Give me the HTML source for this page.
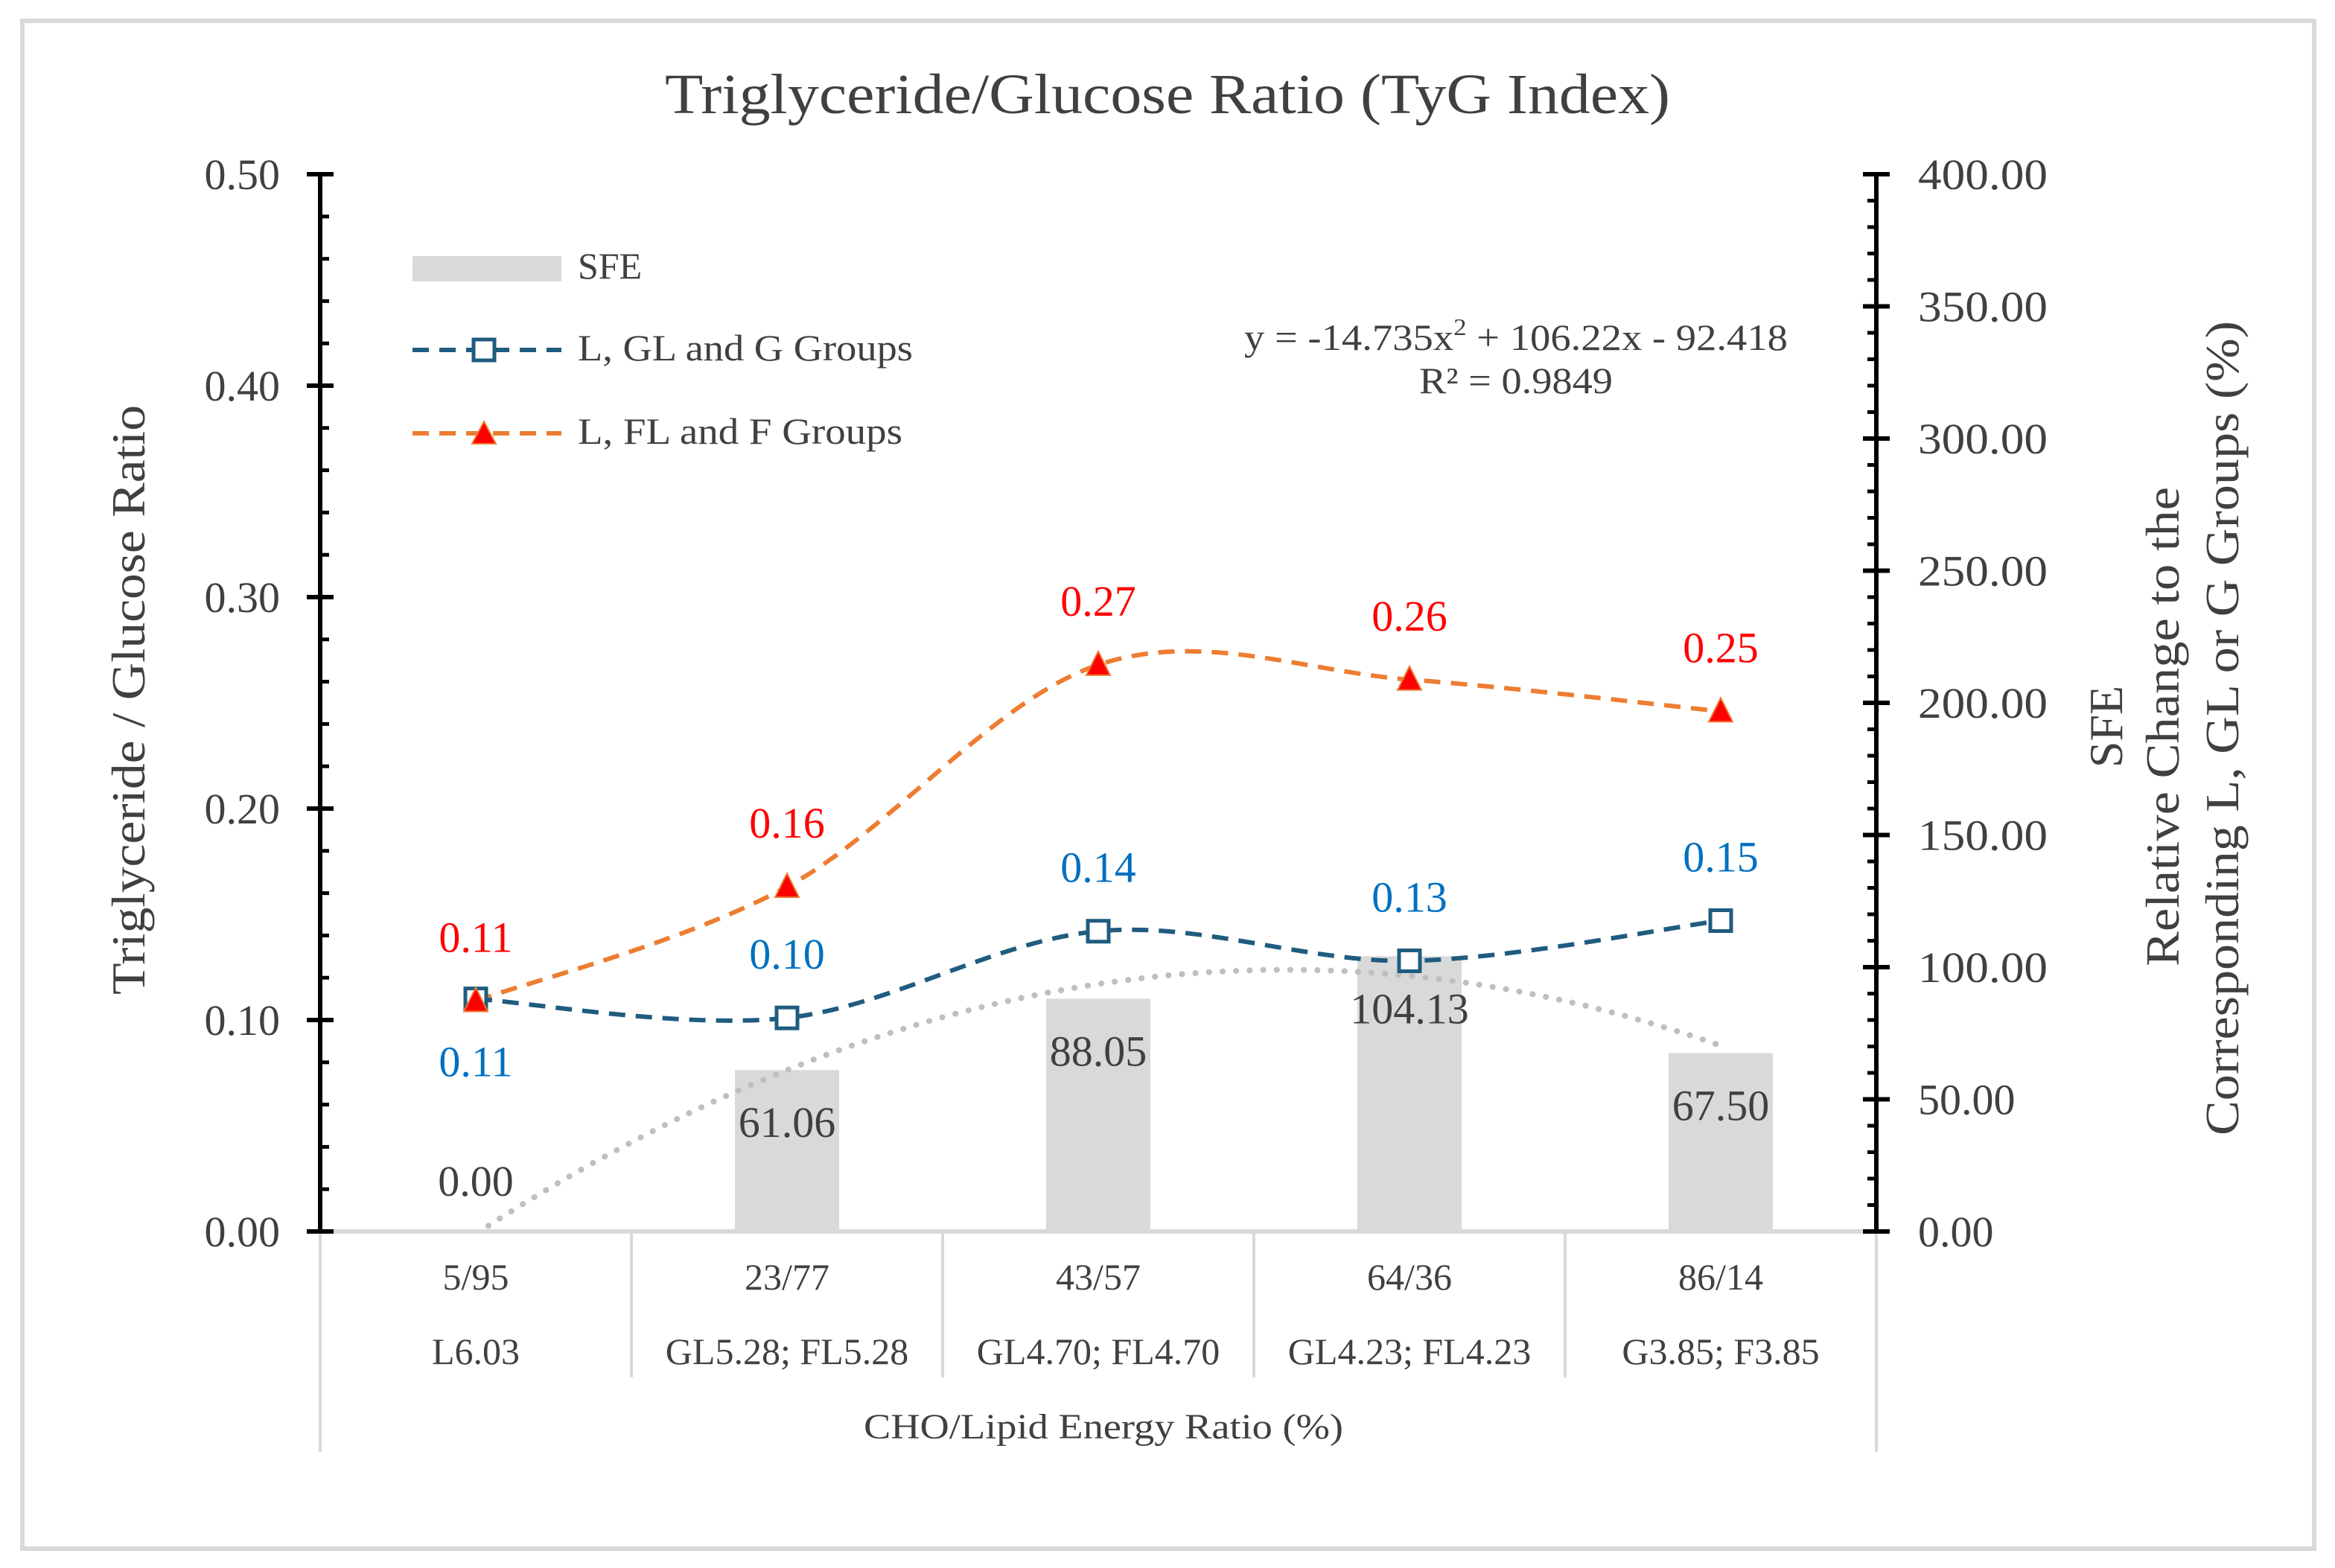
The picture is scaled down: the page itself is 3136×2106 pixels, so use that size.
<!DOCTYPE html>
<html><head><meta charset="utf-8">
<style>
html,body{margin:0;padding:0;background:#fff;}
svg{display:block;}
text{font-family:"Liberation Serif",serif;}
</style></head>
<body>
<svg id="chart" width="3136" height="2106" viewBox="0 0 1568 1053" xmlns="http://www.w3.org/2000/svg">
<rect x="15" y="14" width="1539" height="1026" fill="#fff" stroke="#d9d9d9" stroke-width="3"/>
<text x="784" y="76" font-size="38" fill="#404040" text-anchor="middle" textLength="675" lengthAdjust="spacingAndGlyphs">Triglyceride/Glucose  Ratio (TyG Index)</text>
<g id="grid"></g>
<g id="bars"></g>
<g id="trend"></g>
<g id="lines"></g>
<g id="axes"></g>
<g id="labels"></g>
<text transform="translate(97,470) rotate(-90)" font-size="32" fill="#404040" text-anchor="middle" textLength="396" lengthAdjust="spacingAndGlyphs">Triglyceride / Glucose Ratio</text>
<text transform="translate(1425,488) rotate(-90)" font-size="32" fill="#404040" text-anchor="middle">SFE</text>
<text transform="translate(1463,488) rotate(-90)" font-size="32" fill="#404040" text-anchor="middle" textLength="322" lengthAdjust="spacingAndGlyphs">Relative Change to the</text>
<text transform="translate(1503,489) rotate(-90)" font-size="32" fill="#404040" text-anchor="middle" textLength="547" lengthAdjust="spacingAndGlyphs">Corresponding L, GL or G Groups (%)</text>
<text x="741" y="966" font-size="24" fill="#404040" text-anchor="middle" textLength="322" lengthAdjust="spacingAndGlyphs">CHO/Lipid Energy Ratio (%)</text>
<g>
<rect x="277" y="172" width="100" height="17" fill="#d9d9d9"/>
<text x="388" y="187" font-size="25" fill="#404040">SFE</text>
<line x1="277" y1="235" x2="377" y2="235" stroke="#1f5c7f" stroke-width="3" stroke-dasharray="11,7"/>
<rect x="318" y="228" width="14" height="14" fill="#fff" stroke="#1f5c7f" stroke-width="2.5"/>
<text x="388" y="242" font-size="25" fill="#404040" textLength="225" lengthAdjust="spacingAndGlyphs">L, GL and G Groups</text>
<line x1="277" y1="291" x2="377" y2="291" stroke="#ed7d31" stroke-width="3" stroke-dasharray="11,7"/>
<polygon points="325,283 333,298 317,298" fill="#ff0000" stroke="#ed7d31" stroke-width="1"/>
<text x="388" y="298" font-size="25" fill="#404040" textLength="218" lengthAdjust="spacingAndGlyphs">L, FL and F Groups</text>
</g>
<text x="1018" y="235" font-size="25" fill="#404040" text-anchor="middle" textLength="365" lengthAdjust="spacingAndGlyphs">y = -14.735x<tspan font-size="16" dy="-10">2</tspan><tspan dy="10"> + 106.22x - 92.418</tspan></text>
<text x="1018" y="264" font-size="25" fill="#404040" text-anchor="middle" textLength="130" lengthAdjust="spacingAndGlyphs">R² = 0.9849</text>
</svg>
<script>
const categories = ["5/95","23/77","43/57","64/36","86/14"];
const groupLabels = ["L6.03","GL5.28; FL5.28","GL4.70; FL4.70","GL4.23; FL4.23","G3.85; F3.85"];
const sfeValues = [0, 61.06, 88.05, 104.13, 67.50];
const sfeLabels = ["0.00","61.06","88.05","104.13","67.50"];
const blueValues = [0.110, 0.101, 0.142, 0.128, 0.147];
const blueLabels = ["0.11","0.10","0.14","0.13","0.15"];
const orangeValues = [0.109, 0.163, 0.268, 0.261, 0.246];
const orangeLabels = ["0.11","0.16","0.27","0.26","0.25"];
const trendCoef = [-14.735, 106.22, -92.418];
const leftTicks = ["0.00","0.10","0.20","0.30","0.40","0.50"];
const rightTicks = ["0.00","50.00","100.00","150.00","200.00","250.00","300.00","350.00","400.00"];

const NS="http://www.w3.org/2000/svg";
const X0=215, X1=1260, Y0=827, Y1=117;
const band=(X1-X0)/categories.length;
const xC=i=>X0+band*(i+0.5);
const xT=t=>X0+band*(t-0.5);
const yL=v=>Y0-(v/0.5)*(Y0-Y1);
const yR=v=>Y0-(v/400)*(Y0-Y1);
function mk(tag,attrs,parent,txt){const e=document.createElementNS(NS,tag);for(const k in attrs)e.setAttribute(k,attrs[k]);if(txt!==undefined)e.textContent=txt;document.getElementById(parent).appendChild(e);return e;}
function smooth(pts){let d=`M${pts[0][0]},${pts[0][1]}`;for(let i=0;i<pts.length-1;i++){const p0=pts[i-1]||pts[i],p1=pts[i],p2=pts[i+1],p3=pts[i+2]||p2;const c1=[p1[0]+(p2[0]-p0[0])/6,p1[1]+(p2[1]-p0[1])/6],c2=[p2[0]-(p3[0]-p1[0])/6,p2[1]-(p3[1]-p1[1])/6];d+=` C${c1[0]},${c1[1]} ${c2[0]},${c2[1]} ${p2[0]},${p2[1]}`;}return d;}

let e;
e=mk('line',{x1:X0,y1:Y0,x2:X1,y2:Y0,stroke:'#d9d9d9','stroke-width':3},'grid');


for(let i=0;i<=categories.length;i++){
  const x=X0+band*i, outer=(i===0||i===categories.length);
  e=mk('line',{x1:x,y1:Y0,x2:x,y2:outer?975:925,stroke:'#d9d9d9','stroke-width':2},'grid');
  
  
}
categories.forEach((c,i)=>{
  e=mk('text',{x:xC(i),y:866,'font-size':25,fill:'#404040','text-anchor':'middle'},'labels',c);
  
  
  e=mk('text',{x:xC(i),y:916,'font-size':25,fill:'#404040','text-anchor':'middle'},'labels',groupLabels[i]);
  
  
});

sfeValues.forEach((v,i)=>{
  e=mk('rect',{x:xC(i)-35,y:yR(v),width:70,height:Y0-yR(v),fill:'#d9d9d9'},'bars');
  
  
  const ly = v===0 ? Y0-24 : yR(v)+45;
  e=mk('text',{x:xC(i),y:ly,'font-size':29,fill:'#404040','text-anchor':'middle'},'labels',sfeLabels[i]);
  
  
});

{
  const pts=[];
  for(let k=0;k<=100;k++){const t=1+4*k/100;const v=trendCoef[0]*t*t+trendCoef[1]*t+trendCoef[2];if(v<0)continue;pts.push(`${xT(t).toFixed(1)},${yR(v).toFixed(1)}`);}
  e=mk('polyline',{points:pts.join(' '),fill:'none',stroke:'#bfbfbf','stroke-width':4,'stroke-dasharray':'0.1,9','stroke-linecap':'round'},'trend');
  
  
}

const bPts=blueValues.map((v,i)=>[xC(i),yL(v)]);
const oPts=orangeValues.map((v,i)=>[xC(i),yL(v)]);
e=mk('path',{d:smooth(oPts),fill:'none',stroke:'#ed7d31','stroke-width':3,'stroke-dasharray':'11,7'},'lines');


e=mk('path',{d:smooth(bPts),fill:'none',stroke:'#1f5c7f','stroke-width':3,'stroke-dasharray':'11,7'},'lines');


bPts.forEach((p,i)=>{
  e=mk('rect',{x:p[0]-7,y:p[1]-7,width:14,height:14,fill:'#fff',stroke:'#1f5c7f','stroke-width':2.5},'lines');
  
  
  const ly = i===0 ? p[1]+52 : p[1]-33;
  e=mk('text',{x:p[0],y:ly,'font-size':29,fill:'#0070c0','text-anchor':'middle'},'labels',blueLabels[i]);
  
  
});
oPts.forEach((p,i)=>{
  e=mk('polygon',{points:`${p[0]},${p[1]-9} ${p[0]+8},${p[1]+7} ${p[0]-8},${p[1]+7}`,fill:'#ff0000',stroke:'#ed7d31','stroke-width':1},'lines');
  
  
  e=mk('text',{x:p[0],y:p[1]-33,'font-size':29,fill:'#ff0000','text-anchor':'middle'},'labels',orangeLabels[i]);
  
  
});

e=mk('line',{x1:X0,y1:Y1,x2:X0,y2:Y0,stroke:'#000','stroke-width':3},'axes');


e=mk('line',{x1:X1,y1:Y1,x2:X1,y2:Y0,stroke:'#000','stroke-width':3},'axes');


for(let k=0;k<=25;k++){const v=k*0.02,y=yL(v);const major=k%5===0;
  e=mk('line',{x1:major?X0-9:X0,y1:y,x2:X0+(major?9:6),y2:y,stroke:'#000','stroke-width':major?3:2.5},'axes');
  
  
}
leftTicks.forEach((t,i)=>{
  e=mk('text',{x:188,y:yL(i*0.1)+10,'font-size':29,fill:'#404040','text-anchor':'end'},'labels',t);
  
  
});
for(let k=0;k<=40;k++){const v=k*10,y=yR(v);const major=k%5===0;
  e=mk('line',{x1:X1-(major?9:6),y1:y,x2:major?X1+9:X1,y2:y,stroke:'#000','stroke-width':major?3:2.5},'axes');
  
  
}
rightTicks.forEach((t,i)=>{
  const attrs={x:1288,y:yR(i*50)+10,'font-size':29,fill:'#404040','text-anchor':'start'};
  if(t.length===6){attrs.textLength=87;attrs.lengthAdjust='spacingAndGlyphs';}
  e=mk('text',attrs,'labels',t);
  
  
});
</script>
</body></html>
